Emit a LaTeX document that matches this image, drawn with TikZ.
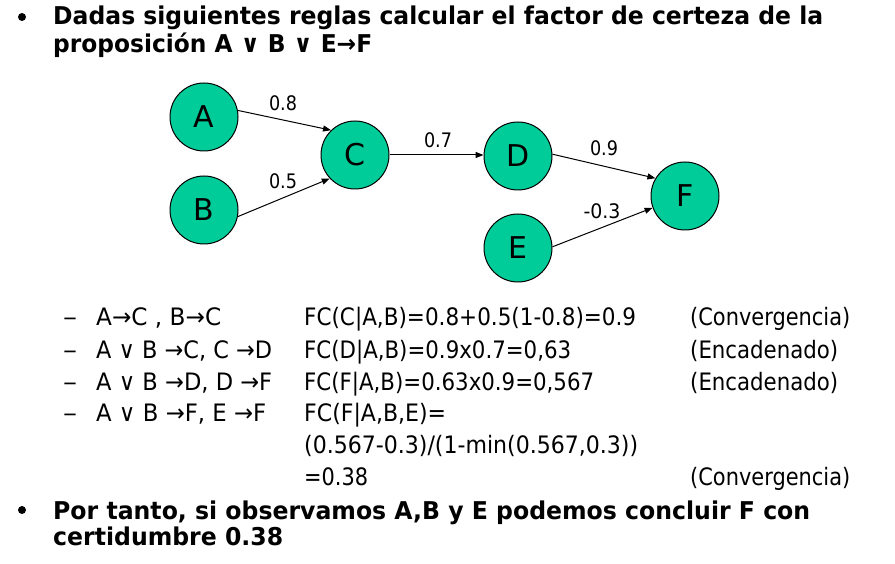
\documentclass[tikz,border=0pt]{standalone}
\usepackage{graphicx}
\usepackage{fontspec}
\setmainfont{DejaVu Sans}
\usetikzlibrary{arrows.meta}
\definecolor{nodegreen}{RGB}{0,204,153}
\newcommand\fitw[2]{\resizebox{#1pt}{\height}{#2}}
\tikzset{
  circ/.style={circle, draw=black, line width=1pt, fill=nodegreen, minimum size=68pt, inner sep=0pt, font=\fontsize{30}{30}\selectfont},
  lab/.style={inner sep=0pt, font=\fontsize{20}{20}\selectfont},
  arr/.style={-{Triangle[length=8pt,width=6pt]}, line width=1pt},
  txt/.style={anchor=base west, inner sep=0pt, font=\fontsize{24}{24}\selectfont},
  btxt/.style={anchor=base west, inner sep=0pt, font=\bfseries\fontsize{24.5}{24.5}\selectfont},
  bul/.style={circle, fill=black, inner sep=0pt, minimum size=8pt},
}
\begin{document}
\begin{tikzpicture}[x=1pt,y=-1pt]
\useasboundingbox (0,0) rectangle (895,564);
% title
\node[bul] (b1) at (22,17) {};
\node[btxt] (h1) at (53,25) {\fitw{770}{Dadas siguientes reglas calcular el factor de certeza de la}};
\node[btxt] (h2) at (53,53) {\fitw{319}{proposición A ∨ B ∨ E→F}};
% graph
\node[circ] (A) at (204,117) {A};
\node[circ] (B) at (204,210) {B};
\node[circ] (C) at (355,155) {C};
\node[circ] (D) at (518,156) {D};
\node[circ] (E) at (518,248) {E};
\node[circ] (F) at (685,196) {F};
\draw[arr] (A.11) -- (C.134);
\draw[arr] (B.-11) -- (C.223);
\draw[arr] (C.east) -- (C.east -| D.west);
\draw[arr] (D.3) -- (F.149);
\draw[arr] (E.2) -- (F.200);
\node[lab] (l1) at (283,103) {\fitw{28}{0.8}};
\node[lab] (l2) at (283,181) {\fitw{28}{0.5}};
\node[lab] (l3) at (438,140) {\fitw{28}{0.7}};
\node[lab] (l4) at (604,148) {\fitw{28}{0.9}};
\node[lab] (l5) at (602,211) {\fitw{37}{-0.3}};
% rules
\node[txt] (d1) at (63,326) {\fitw{14}{–}};
\node[txt] (d2) at (63,358) {\fitw{14}{–}};
\node[txt] (d3) at (63,390) {\fitw{14}{–}};
\node[txt] (d4) at (63,421) {\fitw{14}{–}};
\node[txt] (r1) at (96,326) {\fitw{125}{A→C , B→C}};
\node[txt] (r2) at (96,358) {\fitw{176}{A ∨ B →C, C →D}};
\node[txt] (r3) at (96,390) {\fitw{176}{A ∨ B →D, D →F}};
\node[txt] (r4) at (96,421) {\fitw{170}{A ∨ B →F, E →F}};
\node[txt] (f1) at (304,326) {\fitw{332}{FC(C|A,B)=0.8+0.5(1-0.8)=0.9}};
\node[txt] (f2) at (304,358) {\fitw{267}{FC(D|A,B)=0.9x0.7=0,63}};
\node[txt] (f3) at (304,390) {\fitw{290}{FC(F|A,B)=0.63x0.9=0,567}};
\node[txt] (f4) at (304,421) {\fitw{142}{FC(F|A,B,E)=}};
\node[txt] (f5) at (304,453) {\fitw{334}{(0.567-0.3)/(1-min(0.567,0.3))}};
\node[txt] (f6) at (304,485) {\fitw{64}{=0.38}};
\node[txt] (c1) at (690,326) {\fitw{160}{(Convergencia)}};
\node[txt] (c2) at (690,358) {\fitw{148}{(Encadenado)}};
\node[txt] (c3) at (690,390) {\fitw{148}{(Encadenado)}};
\node[txt] (c6) at (690,485) {\fitw{160}{(Convergencia)}};
% conclusion
\node[bul] (b2) at (22,510) {};
\node[btxt] (k1) at (53,519) {\fitw{757}{Por tanto, si observamos A,B y E podemos concluir F con}};
\node[btxt] (k2) at (53,545) {\fitw{230}{certidumbre 0.38}};
\end{tikzpicture}
\end{document}
